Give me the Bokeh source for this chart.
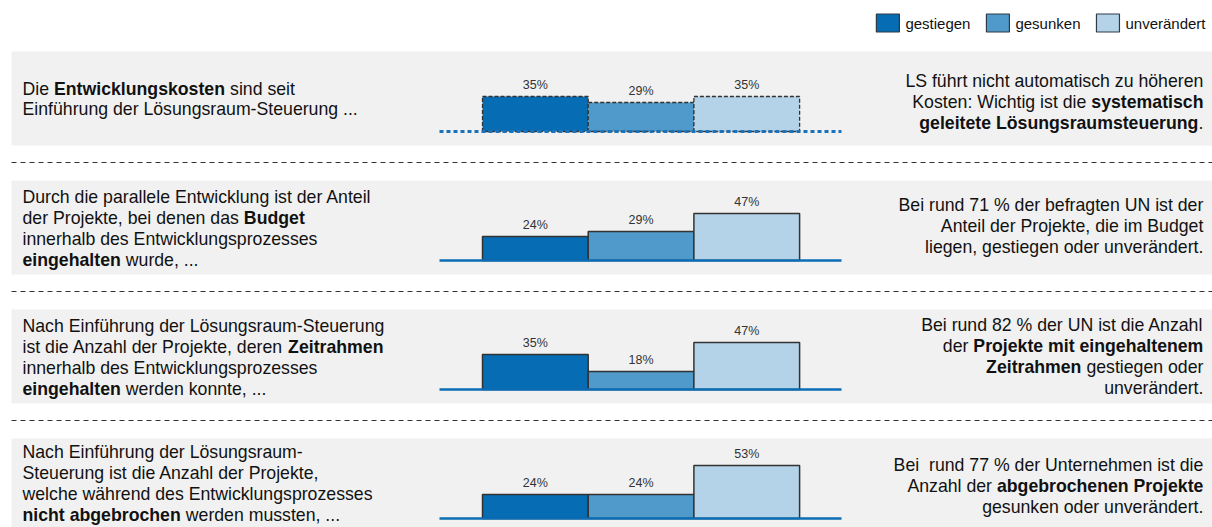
import re
from bokeh.plotting import figure
from bokeh.models import Range1d, ColumnDataSource
from bokeh.core.properties import value
from bokeh.embed import file_html
from bokeh.resources import INLINE

# ---------------- data ----------------
categories = ["gestiegen", "gesunken", "unverändert"]
kosten = [35, 29, 35]
budget = [24, 29, 47]
zeitrahmen = [35, 18, 47]
abgebrochen = [24, 24, 53]
series = [kosten, budget, zeitrahmen, abgebrochen]

left_texts = [
    ["Die **Entwicklungskosten** sind seit",
     "Einführung der Lösungsraum-Steuerung ..."],
    ["Durch die parallele Entwicklung ist der Anteil",
     "der Projekte, bei denen das **Budget**",
     "innerhalb des Entwicklungsprozesses",
     "**eingehalten** wurde, ..."],
    ["Nach Einführung der Lösungsraum-Steuerung",
     "ist die Anzahl der Projekte, deren **Zeitrahmen**",
     "innerhalb des Entwicklungsprozesses",
     "**eingehalten** werden konnte, ..."],
    ["Nach Einführung der Lösungsraum-",
     "Steuerung ist die Anzahl der Projekte,",
     "welche während des Entwicklungsprozesses",
     "**nicht abgebrochen** werden mussten, ..."],
]
right_texts = [
    ["LS führt nicht automatisch zu höheren",
     "Kosten: Wichtig ist die **systematisch**",
     "**geleitete Lösungsraumsteuerung**."],
    ["Bei rund 71 % der befragten UN ist der",
     "Anteil der Projekte, die im Budget",
     "liegen, gestiegen oder unverändert."],
    ["Bei rund 82 % der UN ist die Anzahl",
     "der **Projekte mit eingehaltenem**",
     "**Zeitrahmen** gestiegen oder",
     "unverändert."],
    ["Bei  rund 77 % der Unternehmen ist die",
     "Anzahl der **abgebrochenen Projekte**",
     "gesunken oder unverändert."],
]

# ---------------- style / layout ----------------
W, H = 1212, 527
colors = ["#066cb4", "#4f9aca", "#b4d3e8"]
FONT = "Liberation Sans"
MAIN_SIZE = 17.7
LBL_SIZE = 12.5
LEG_SIZE = 15
band_tops = [51, 180, 309, 438]
BAND_H = 94
BASE_OFF = 80
BAR_X0, BW = 482, 105.7
LINE_X0, LINE_X1 = 439, 841
LEFT_X, RIGHT_X = 22, 1203
LSP = 21
left_first = [37, 16, 16, 13]
left_sp = [20.5, 21, 21, 21]
right_first = [29, 24, 15, 26]

REG = dict(zip("ABCDEFGHIJKLMNOPQRSTUVWXYZ",
               [667, 667, 722, 722, 667, 611, 778, 722, 278, 500, 667, 556, 833, 722, 778, 667, 778, 722, 667, 611, 722, 667, 944, 667, 667, 611]))
REG.update(zip("abcdefghijklmnopqrstuvwxyz",
               [556, 556, 500, 556, 556, 278, 556, 556, 222, 222, 500, 222, 833, 556, 556, 556, 556, 333, 500, 278, 556, 500, 722, 500, 500, 500]))
REG.update({" ": 278, "%": 889, ",": 278, ".": 278, "-": 333, ":": 278, "ä": 556, "ö": 556, "ü": 556, "Ö": 778})
REG.update({d: 556 for d in "0123456789"})
BOLD = dict(zip("ABCDEFGHIJKLMNOPQRSTUVWXYZ",
                [722, 722, 722, 722, 667, 611, 778, 722, 278, 556, 722, 611, 833, 722, 778, 667, 778, 722, 667, 611, 722, 667, 944, 667, 667, 611]))
BOLD.update(zip("abcdefghijklmnopqrstuvwxyz",
                [556, 611, 556, 611, 556, 333, 611, 611, 278, 278, 556, 278, 889, 611, 611, 611, 611, 389, 556, 333, 611, 556, 778, 556, 556, 500]))
BOLD.update({" ": 278, "%": 889, ",": 278, ".": 278, "-": 333, ":": 333, "ä": 556, "ö": 611, "ü": 611, "Ö": 778})
BOLD.update({d: 556 for d in "0123456789"})


def tw(s, bold, size):
    t = BOLD if bold else REG
    return sum(t.get(c, 556) for c in s) * size / 1000.0


def layout_line(line, x, y, align, size, out):
    parts = line.split("**")
    segs = [(t, i % 2 == 1) for i, t in enumerate(parts) if t]
    total = sum(tw(t, b, size) for t, b in segs)
    cur = x if align == "left" else x - total
    for t, b in segs:
        for piece in re.split(r"( {2,})", t):
            if not piece:
                continue
            lead = len(piece) - len(piece.lstrip(" "))
            st = piece.strip(" ")
            if st:
                out[b]["x"].append(cur + tw(" " * lead, b, size))
                out[b]["y"].append(y)
                out[b]["text"].append(st)
            cur += tw(piece, b, size)


p = figure(width=W, height=H, x_range=Range1d(0, W), y_range=Range1d(H, 0),
           x_axis_type=None, y_axis_type=None, toolbar_location=None,
           output_backend="svg", min_border=0)
p.outline_line_color = None
p.background_fill_color = "white"
p.border_fill_color = "white"

# grey bands
p.quad(left=[11] * 4, right=[W] * 4, top=band_tops, bottom=[t + BAND_H for t in band_tops],
       fill_color="#f1f1f1", line_color=None)

# dashed separators
for t in band_tops[1:]:
    p.line(x=[11, W], y=[t - 18, t - 18], line_color="#333333", line_width=1, line_dash="5 4")

# category x-range for bars
p.extra_x_ranges["cat"] = Range1d(start=-BAR_X0 / BW, end=(W - BAR_X0) / BW)

for r, vals in enumerate(series):
    base = band_tops[r] + BASE_OFF
    rn = f"row{r}"
    p.extra_y_ranges[rn] = Range1d(start=-(H - base), end=base)
    src = ColumnDataSource(dict(
        x=[i + 0.5 for i in range(len(categories))],
        top=vals,
        color=colors,
        label=[f"{v}%" for v in vals],
        ly=[v + 12 for v in vals],
    ))
    if r == 0:
        p.vbar(x="x", top="top", bottom=0, width=1, fill_color="color", line_color="#333333",
               line_width=1.3, line_dash="4 2", source=src, x_range_name="cat", y_range_name=rn)
        p.line(x=[LINE_X0, LINE_X1], y=[base, base], line_color="#1a72bb", line_width=3.2, line_dash="4 3")
    else:
        p.vbar(x="x", top="top", bottom=0, width=1, fill_color="color", line_color="#333333",
               line_width=1.5, source=src, x_range_name="cat", y_range_name=rn)
        p.line(x=[LINE_X0, LINE_X1], y=[base, base], line_color="#0a6db5", line_width=2.5)
    p.text(x="x", y="ly", text="label", source=src, x_range_name="cat", y_range_name=rn,
           text_align="center", text_baseline="middle", text_font=value(FONT),
           text_font_size=f"{LBL_SIZE}px", text_color="#333333")

# texts
out = {False: dict(x=[], y=[], text=[]), True: dict(x=[], y=[], text=[])}
for r in range(4):
    for k, line in enumerate(left_texts[r]):
        layout_line(line, LEFT_X, band_tops[r] + left_first[r] + k * left_sp[r], "left", MAIN_SIZE, out)
    for k, line in enumerate(right_texts[r]):
        layout_line(line, RIGHT_X, band_tops[r] + right_first[r] + k * LSP, "right", MAIN_SIZE, out)

for b in (False, True):
    p.text(x="x", y="y", text="text", source=ColumnDataSource(out[b]),
           text_align="left", text_baseline="middle", text_font=value(FONT),
           text_font_size=f"{MAIN_SIZE}px", text_font_style="bold" if b else "normal",
           text_color="#111111")

# legend (right aligned)
SQ_W, SQ_H, GAP1, GAP2, LEG_Y = 23, 18, 6, 16, 22.5
cur = 1205
leg = dict(sx=[], sc=[], tx=[], tt=[])
for name, c in reversed(list(zip(categories, colors))):
    w = tw(name, False, LEG_SIZE)
    cur -= w
    leg["tx"].append(cur)
    leg["tt"].append(name)
    cur -= GAP1
    leg["sx"].append(cur - SQ_W / 2)
    leg["sc"].append(c)
    cur -= SQ_W + GAP2
p.rect(x=leg["sx"], y=[LEG_Y] * 3, width=SQ_W, height=SQ_H, fill_color=leg["sc"],
       line_color="#2f3a45", line_width=1.2)
p.text(x=leg["tx"], y=[LEG_Y] * 3, text=leg["tt"], text_align="left", text_baseline="middle",
       text_font=value(FONT), text_font_size=f"{LEG_SIZE}px", text_color="#111111")

open("out.html", "w").write(file_html(p, INLINE))
